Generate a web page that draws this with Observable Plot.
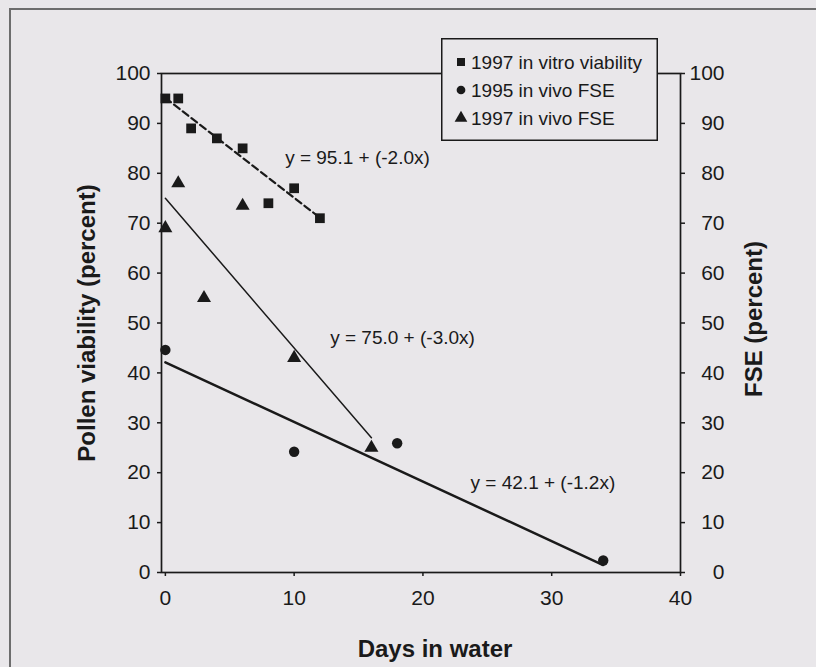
<!DOCTYPE html>
<html><head><meta charset="utf-8">
<script src="https://cdn.jsdelivr.net/npm/d3@7"></script>
<script src="https://cdn.jsdelivr.net/npm/@observablehq/plot@0.6"></script>
<style>
body{margin:0;background:#e9e7ea;font-family:"Liberation Sans",Arial,sans-serif;}
#wrap{position:relative;width:816px;height:667px;overflow:hidden;background:#e9e7ea;}
#border{position:absolute;left:9px;top:8px;width:900px;height:900px;border-left:2px solid #6d6d6d;border-top:2px solid #6d6d6d;}
#chart{position:absolute;left:0;top:0;}
#legend{position:absolute;left:441px;top:38px;}
</style></head><body>
<div id="wrap"><div id="border"></div><div id="chart"></div><div id="legend"></div></div>
<script>
// ---- data ----
const vitroDays = [0, 1, 2, 4, 6, 8, 10, 12];
const vitroViability = [95, 95, 89, 87, 85, 74, 77, 71];
const vivo95Days = [0, 10, 18, 34];
const vivo95FSE = [44.6, 24.2, 25.9, 2.4];
const vivo97Days = [0, 1, 3, 6, 10, 16];
const vivo97FSE = [69, 78, 55, 73.5, 43, 25];
const fitLabels = ["y = 95.1 + (-2.0x)", "y = 75.0 + (-3.0x)", "y = 42.1 + (-1.2x)"];
const fitStartDays = [0, 0, 0];
const fitStartValues = [95.1, 75.0, 42.1];
const fitEndDays = [12, 16, 34];
const fitEndValues = [71.1, 27.0, 1.5];
const fitLabelDays = [9.3, 12.8, 23.7];
const fitLabelValues = [83, 47, 18];
const xTicks = [0, 10, 20, 30, 40];
const yTicks = [0, 10, 20, 30, 40, 50, 60, 70, 80, 90, 100];
const seriesNames = ["1997 in vitro viability", "1995 in vivo FSE", "1997 in vivo FSE"];
const seriesSymbols = ["square", "circle", "triangle"];
const xTitle = "Days in water";
const yTitleLeft = "Pollen viability (percent)";
const yTitleRight = "FSE (percent)";

// ---- tables ----
const vitro = vitroDays.map((d, i) => ({x: d, y: vitroViability[i]}));
const vivo95 = vivo95Days.map((d, i) => ({x: d, y: vivo95FSE[i]}));
const vivo97 = vivo97Days.map((d, i) => ({x: d, y: vivo97FSE[i]}));
const fits = fitLabels.map((t, i) => [
  {x: fitStartDays[i], y: fitStartValues[i]},
  {x: fitEndDays[i], y: fitEndValues[i]}
]);
const fitText = fitLabels.map((t, i) => ({x: fitLabelDays[i], y: fitLabelValues[i], t}));

const ink = "#1a1a1a";
const chart = Plot.plot({
  width: 816, height: 667,
  marginLeft: 161, marginRight: 136, marginTop: 73, marginBottom: 95,
  style: {background: "transparent", fontFamily: "'Liberation Sans', Arial, sans-serif", color: ink},
  x: {domain: [-0.3, 40]},
  y: {domain: [0, 100]},
  marks: [
    Plot.frame({stroke: ink, strokeWidth: 1.7}),
    Plot.axisY(yTicks, {anchor: "left", tickSize: 4, tickPadding: 7, fontSize: 21, strokeWidth: 1.5, label: null}),
    Plot.axisY(yTicks, {anchor: "right", tickSize: 4, tickPadding: 40, textAnchor: "end", fontSize: 21, strokeWidth: 1.5, label: null}),
    Plot.axisX(xTicks, {anchor: "bottom", tickSize: 4, tickPadding: 14, fontSize: 21, strokeWidth: 1.5, label: null}),
    Plot.line(fits[0], {x: "x", y: "y", stroke: ink, strokeWidth: 2.2, strokeDasharray: "7,4"}),
    Plot.line(fits[1], {x: "x", y: "y", stroke: ink, strokeWidth: 1.5}),
    Plot.line(fits[2], {x: "x", y: "y", stroke: ink, strokeWidth: 2.5}),
    Plot.dot(vitro, {x: "x", y: "y", symbol: "square", r: 5.5, fill: ink, stroke: "none"}),
    Plot.dot(vivo95, {x: "x", y: "y", symbol: "circle", r: 5.2, fill: ink, stroke: "none"}),
    Plot.dot(vivo97, {x: "x", y: "y", symbol: "triangle", r: 5.2, fill: ink, stroke: "none"}),
    Plot.text(fitText, {x: "x", y: "y", text: "t", textAnchor: "start", lineAnchor: "middle", fontSize: 19, fill: ink}),
    Plot.text([xTitle], {text: d => d, frameAnchor: "bottom", textAnchor: "middle", dx: 14, dy: 77, lineAnchor: "middle", fontSize: 24, fontWeight: "bold", fill: ink}),
    Plot.text([yTitleLeft], {text: d => d, frameAnchor: "left", textAnchor: "middle", dx: -74, dy: 0, rotate: -90, lineAnchor: "middle", fontSize: 24, fontWeight: "bold", fill: ink}),
    Plot.text([yTitleRight], {text: d => d, frameAnchor: "right", textAnchor: "middle", dx: 74, dy: -4, rotate: -90, lineAnchor: "middle", fontSize: 24, fontWeight: "bold", fill: ink})
  ]
});
document.getElementById("chart").append(chart);

// ---- legend ----
const lw = 217, lh = 103;
const lsvg = d3.select("#legend").append("svg").attr("width", lw).attr("height", lh);
lsvg.append("rect").attr("x", 0.75).attr("y", 0.75).attr("width", lw - 1.5).attr("height", lh - 1.5)
  .attr("fill", "#e9e7ea").attr("stroke", ink).attr("stroke-width", 1.5);
const symMap = {square: d3.symbolSquare, circle: d3.symbolCircle, triangle: d3.symbolTriangle};
const symSize = {square: 64, circle: 60, triangle: 70};
seriesNames.forEach((name, i) => {
  const cy = 24 + i * 28;
  lsvg.append("path").attr("transform", `translate(20,${cy})`)
    .attr("d", d3.symbol(symMap[seriesSymbols[i]], symSize[seriesSymbols[i]])()).attr("fill", ink);
  lsvg.append("text").attr("x", 30).attr("y", cy).attr("dy", "0.35em")
    .attr("font-size", 19).attr("fill", ink).text(name);
});
</script>
</body></html>
